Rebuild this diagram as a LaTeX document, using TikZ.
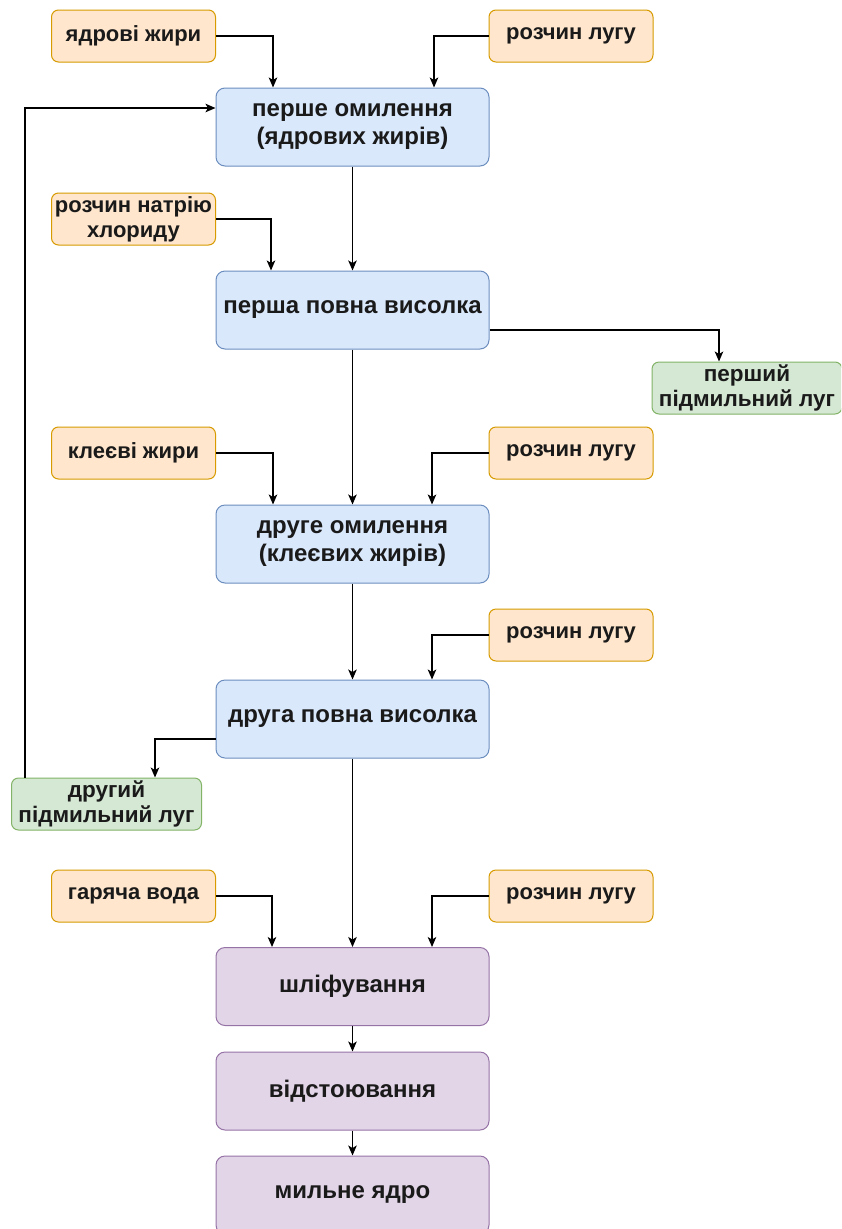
\documentclass[tikz,border=0pt]{standalone}
\usepackage{fontspec}
\setmainfont{Liberation Sans}
\usetikzlibrary{arrows.meta,calc}
\definecolor{ofill}{HTML}{FFE6CC}
\definecolor{oline}{HTML}{D79B00}
\definecolor{bfill}{HTML}{DAE8FC}
\definecolor{bline}{HTML}{6C8EBF}
\definecolor{gfill}{HTML}{D5E8D4}
\definecolor{gline}{HTML}{82B366}
\definecolor{pfill}{HTML}{E1D5E7}
\definecolor{pline}{HTML}{9673A6}
\definecolor{txt}{HTML}{1A1A1A}
\tikzset{
  base/.style={draw, line width=1pt, align=center, inner sep=0pt, text=txt},
  proc/.style={base, rounded corners=9pt, minimum width=273pt, minimum height=78pt,
    font=\bfseries\fontsize{24}{28}\selectfont},
  blueproc/.style={proc, fill=bfill, draw=bline},
  purpproc/.style={proc, fill=pfill, draw=pline},
  input/.style={base, rounded corners=7pt, fill=ofill, draw=oline, minimum width=164pt,
    minimum height=52pt, font=\bfseries\fontsize{22}{25}\selectfont},
  output/.style={base, rounded corners=7pt, fill=gfill, draw=gline, minimum width=190pt,
    minimum height=52pt, font=\bfseries\fontsize{22.5}{25}\selectfont},
  arr/.style={draw=black, line width=1.3pt, -{Stealth[length=10pt,width=8.5pt,inset=2.5pt]}}
}
\begin{document}
\begin{tikzpicture}[x=1pt,y=-1pt]
\fill[white] (0,0) rectangle (841,1229);
\clip (0,0) rectangle (841,1229);
% inputs
\node[input] (oA) at (133.5,36) {ядрові жири};
\node[input] (oB) at (571,36) {розчин лугу};
\node[input] (oC) at (133.5,219) {розчин натрію\\хлориду};
\node[input] (oD) at (133.5,453) {клеєві жири};
\node[input] (oE) at (571,453) {розчин лугу};
\node[input] (oF) at (571,635) {розчин лугу};
\node[input] (oG) at (133.5,896) {гаряча вода};
\node[input] (oH) at (571,896) {розчин лугу};
% processes
\node[blueproc] (p1) at (352.5,127) {перше омилення\\(ядрових жирів)};
\node[blueproc] (p2) at (352.5,310) {перша повна висолка};
\node[blueproc] (p3) at (352.5,544) {друге омилення\\(клеєвих жирів)};
\node[blueproc] (p4) at (352.5,719) {друга повна висолка};
\node[purpproc] (p5) at (352.5,986.5) {шліфування};
\node[purpproc] (p6) at (352.5,1091) {відстоювання};
\node[purpproc] (p7) at (352.5,1195) {мильне ядро};
% outputs
\node[output] (g1) at (747,388) {перший\\підмильний луг};
\node[output] (g2) at (106.5,804) {другий\\підмильний луг};
% connectors
\draw[arr] (oA.east) -| ($(p1.north)+(-79.5,0)$);
\draw[arr] (oB.west) -| ($(p1.north)+(81.5,0)$);
\draw[arr] ($(g2.north west)+(14,0)$) |- ($(p1.west)+(0,-19)$);
\draw[arr] (p1.south) -- (p2.north);
\draw[arr] (oC.east) -| ($(p2.north)+(-81.5,0)$);
\draw[arr] ($(p2.east)+(0,20)$) -| ($(g1.north)+(-28,0)$);
\draw[arr] (oD.east) -| ($(p3.north)+(-79.5,0)$);
\draw[arr] (oE.west) -| ($(p3.north)+(79.5,0)$);
\draw[arr] (p2.south) -- (p3.north);
\draw[arr] (p3.south) -- (p4.north);
\draw[arr] (oF.west) -| ($(p4.north)+(79.5,0)$);
\draw[arr] ($(p4.west)+(0,20)$) -| ($(g2.north)+(48.5,0)$);
\draw[arr] (p4.south) -- (p5.north);
\draw[arr] (oG.east) -| ($(p5.north)+(-80.5,0)$);
\draw[arr] (oH.west) -| ($(p5.north)+(79.5,0)$);
\draw[arr] (p5.south) -- (p6.north);
\draw[arr] (p6.south) -- (p7.north);
\end{tikzpicture}
\end{document}
